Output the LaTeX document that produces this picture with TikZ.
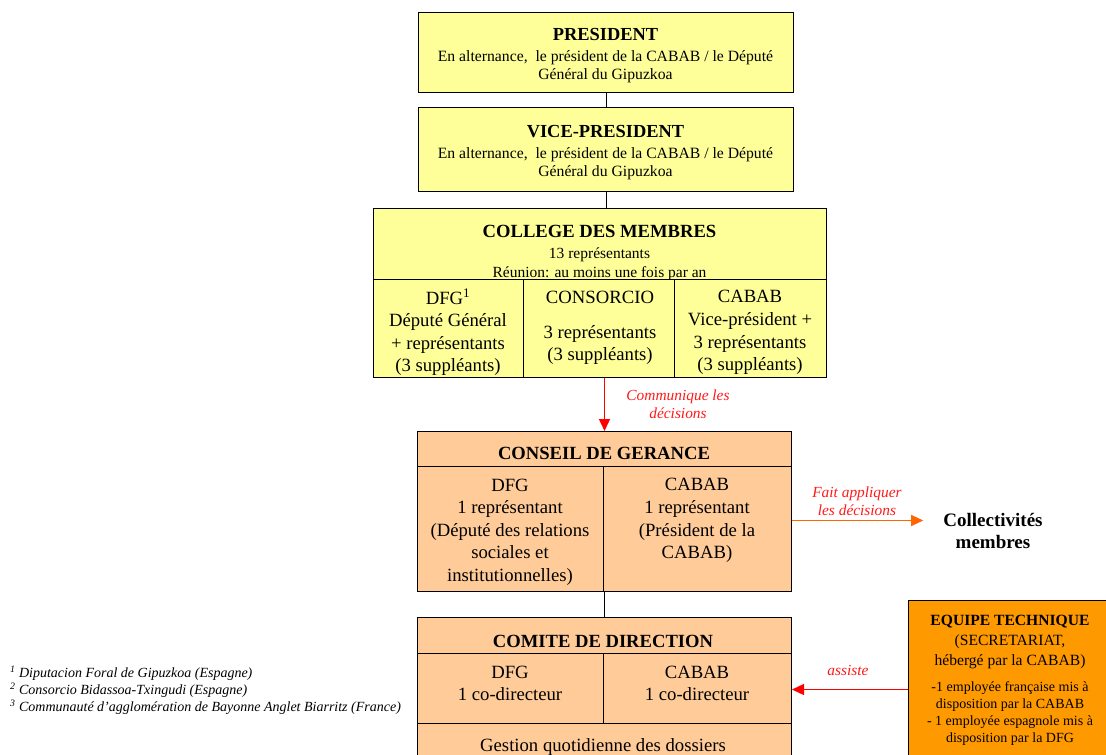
\documentclass[tikz,border=0pt]{standalone}
\usepackage{fontspec}
\setmainfont{Liberation Serif}
\usetikzlibrary{arrows.meta}
\definecolor{yel}{HTML}{FFFF99}
\definecolor{peach}{HTML}{FFCC99}
\definecolor{orng}{HTML}{FF9900}
\definecolor{redarrow}{HTML}{FF0000}
\definecolor{orgarrow}{HTML}{FF6600}
\definecolor{lblred}{HTML}{FF1A1A}
\begin{document}
\begin{tikzpicture}[x=1pt,y=-1pt,
  box/.style={draw=black, line width=1pt, inner sep=0pt, anchor=north west},
  ybox/.style={box, fill=yel},
  pbox/.style={box, fill=peach},
  obox/.style={box, fill=orng},
  txt/.style={inner sep=0pt, align=center},
  ttl/.style={txt, font=\fontsize{18.6}{21}\selectfont\bfseries},
  body/.style={txt, font=\fontsize{15.7}{18}\selectfont},
  big/.style={txt, font=\fontsize{18.7}{22.6}\selectfont},
  lbl/.style={txt, text=lblred, font=\fontsize{15.4}{18.5}\selectfont\itshape},
  conn/.style={draw=black, line width=1pt},
  tip/.style={-{Triangle[length=12pt,width=11pt]}, line width=1.3pt}]
\clip (0,0) rectangle (1106,755);
% PRESIDENT
\node[ybox, minimum width=375, minimum height=80] (pres) at (418,12) {};
\node[body] (prestxt) at (605.5,55.5) {{\fontsize{18.4}{21}\selectfont\bfseries PRESIDENT}\\[3pt]
  En alternance,\ \ le président de la CABAB / le Député\\ Général du Gipuzkoa};
% VICE-PRESIDENT
\node[ybox, minimum width=375, minimum height=84] (vice) at (418,107) {};
\node[body] (vicetxt) at (605.5,152.5) {{\fontsize{18.4}{21}\selectfont\bfseries VICE-PRESIDENT}\\[3pt]
  En alternance,\ \ le président de la CABAB / le Député\\ Général du Gipuzkoa};
% COLLEGE
\node[ybox, minimum width=453, minimum height=169] (col) at (373,208) {};
\node[ybox, minimum width=453, minimum height=71] (colhead) at (373,208) {};
\node[body, font=\fontsize{15.5}{19}\selectfont] (colheadtxt) at (599.5,252.5) {{\fontsize{18.6}{21}\selectfont\bfseries COLLEGE DES MEMBRES}\\[2pt]
  13 représentants\\ Réunion: au moins une fois par an};
\node[ybox, minimum width=150, minimum height=98] (col1) at (373,279) {};
\node[ybox, minimum width=151, minimum height=98] (col2) at (523,279) {};
\node[ybox, minimum width=152, minimum height=98] (col3) at (674,279) {};
\node[big] (col1txt) at (448,332.5) {DFG\textsuperscript{1}\\ Député Général\\ + représentants\\ (3 suppléants)};
\node[big] (col2txt) at (600,328) {CONSORCIO\\[12pt] 3 représentants\\ (3 suppléants)};
\node[big] (col3txt) at (750,332.5) {CABAB\\ Vice-président +\\ 3 représentants\\ (3 suppléants)};
% CONSEIL
\node[pbox, minimum width=374, minimum height=160] (conseil) at (417,431) {};
\node[pbox, minimum width=374, minimum height=35] (conhead) at (417,431) {};
\node[ttl] (conheadtxt) at (604,453) {CONSEIL DE GERANCE};
\node[pbox, minimum width=186, minimum height=125] (con1) at (417,466) {};
\node[pbox, minimum width=188, minimum height=125] (con2) at (603,466) {};
\node[big] (con1txt) at (510,532) {DFG\\ 1 représentant\\ (Député des relations\\ sociales et\\ institutionnelles)};
\node[big] (con2txt) at (697,520.5) {CABAB\\ 1 représentant\\ (Président de la\\ CABAB)};
% COMITE
\node[pbox, minimum width=374, minimum height=170] (comite) at (417,617) {};
\node[pbox, minimum width=374, minimum height=36] (comhead) at (417,617) {};
\node[ttl] (comheadtxt) at (603,641) {COMITE DE DIRECTION};
\node[pbox, minimum width=186, minimum height=70] (com1) at (417,653) {};
\node[pbox, minimum width=188, minimum height=70] (com2) at (603,653) {};
\node[big] (com1txt) at (510,683.5) {DFG\\ 1 co-directeur};
\node[big] (com2txt) at (697,683.5) {CABAB\\ 1 co-directeur};
\node[pbox, minimum width=374, minimum height=60] (gest) at (417,723) {};
\node[big] (gesttxt) at (603,747) {Gestion quotidienne des dossiers};
% EQUIPE TECHNIQUE
\node[obox, minimum width=204, minimum height=178] (equipe) at (908,600) {};
\node[txt, font=\fontsize{15.6}{20}\selectfont] (eqtxt) at (1010,680) {{\bfseries EQUIPE TECHNIQUE}\\ (SECRETARIAT,\\ hébergé par la CABAB)\\[6pt]
  {\fontsize{14}{16.5}\selectfont -1 employée française mis à}\\[-3pt]
  {\fontsize{14}{16.5}\selectfont disposition par la CABAB}\\[-3pt]
  {\fontsize{14}{16.5}\selectfont - 1 employée espagnole mis à}\\[-3pt]
  {\fontsize{14}{16.5}\selectfont disposition par la DFG}};
% Collectivites
\node[txt, font=\fontsize{19}{22.5}\selectfont\bfseries] (coll) at (993,531) {Collectivités\\ membres};
% connectors
\draw[conn] (pres.south) -- (vice.north);
\draw[conn] (vice.south) -- (vice.south |- col.north);
\draw[tip, redarrow] (conseil.north |- col.south) -- (conseil.north);
\draw[conn] (conseil.south) -- (comite.north);
\draw[tip, orgarrow, line width=1pt, shorten >=20pt] ([yshift=-9pt]conseil.east) -- ([yshift=-9pt]conseil.east -| coll.west);
\draw[tip, redarrow] (equipe.west) -- (equipe.west -| comite.east);
% labels
\node[lbl] (lblcomm) at (678,404) {Communique les\\ décisions};
\node[lbl] (lblfait) at (857,501) {Fait appliquer\\ les décisions};
\node[lbl] (lblass) at (848,670) {assiste};
% footnotes
\node[txt, align=left, anchor=west, font=\fontsize{14}{17}\selectfont\itshape] (notes) at (10,690.5) {\textsuperscript{1} Diputacion Foral de Gipuzkoa (Espagne)\\
  \textsuperscript{2} Consorcio Bidassoa-Txingudi (Espagne)\\
  \textsuperscript{3} Communauté d’agglomération de Bayonne Anglet Biarritz (France)};
\end{tikzpicture}
\end{document}
